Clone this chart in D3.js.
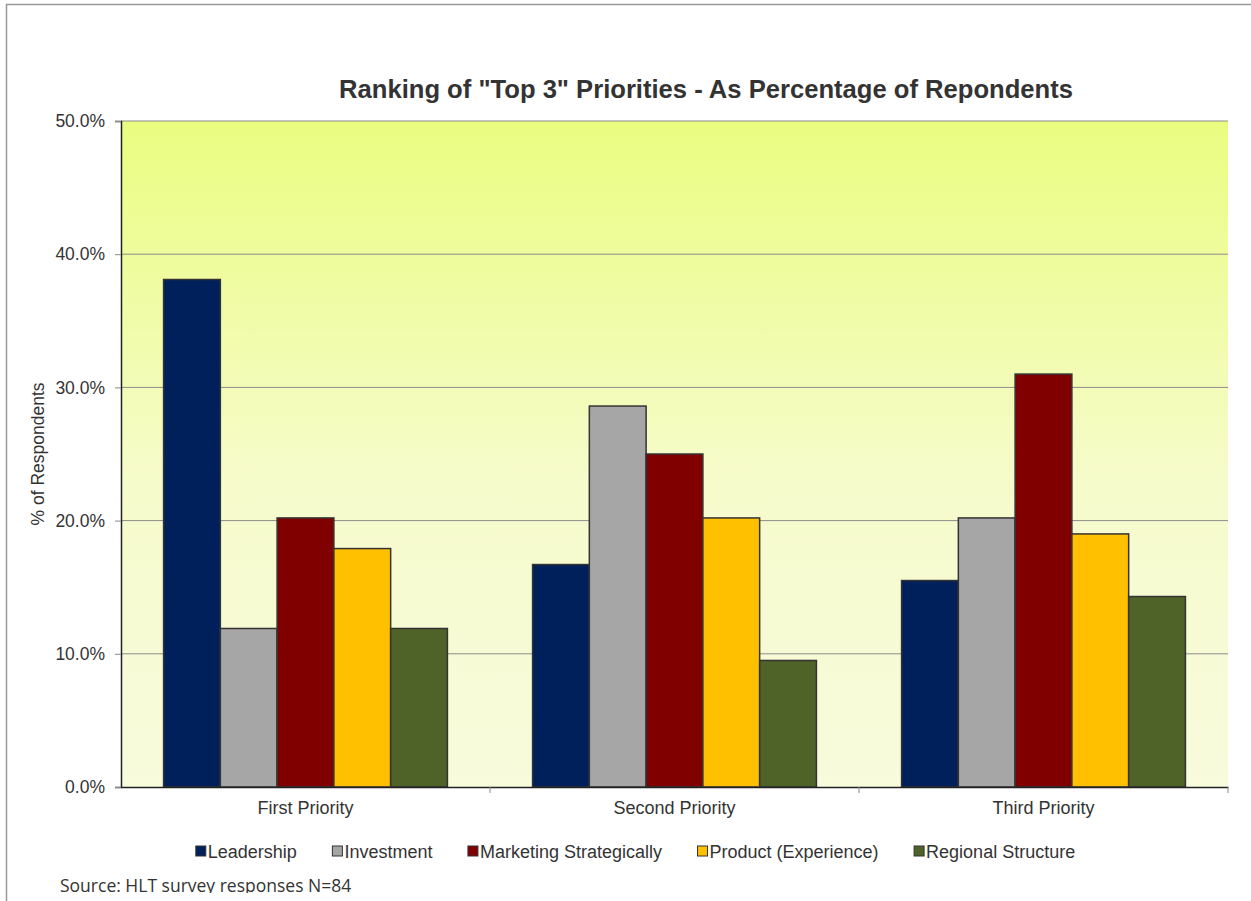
<!DOCTYPE html>
<html>
<head>
<meta charset="utf-8">
<script src="https://cdn.jsdelivr.net/npm/d3@7"></script>
<style>
  body { margin: 0; background: #fff; }
  text { font-family: "Liberation Sans", Arial, sans-serif; fill: #333; }
</style>
</head>
<body>
<div id="canvas"></div>
<script>
const categories = ["First Priority", "Second Priority", "Third Priority"];
const seriesNames = ["Leadership", "Investment", "Marketing Strategically", "Product (Experience)", "Regional Structure"];
const seriesColors = ["#00205b", "#a6a6a6", "#800000", "#ffc000", "#4f6228"];
// percent of respondents, per series, one value per category
const leadership = [38.1, 16.7, 15.5];
const investment = [11.9, 28.6, 20.2];
const marketing = [20.2, 25.0, 31.0];
const product = [17.9, 20.2, 19.0];
const regional = [11.9, 9.5, 14.3];
const yTicks = [0, 10, 20, 30, 40, 50];

const w = 1251, h = 901;
const margin = { top: 121, left: 121, right: 23, bottom: 114 };
const width = w - margin.left - margin.right;
const height = h - margin.top - margin.bottom;

const values = [leadership, investment, marketing, product, regional];
const data = categories.map((c, i) => ({
  category: c,
  bars: seriesNames.map((s, j) => ({ series: s, value: values[j][i] }))
}));

const svg = d3.select("#canvas").append("svg")
  .attr("width", w).attr("height", h);

// outer frame
svg.append("line").attr("x1", 6).attr("x2", w).attr("y1", 4.5).attr("y2", 4.5)
  .attr("stroke", "#999").attr("stroke-width", 1.5);
svg.append("line").attr("x1", 6.5).attr("x2", 6.5).attr("y1", 4).attr("y2", h)
  .attr("stroke", "#999").attr("stroke-width", 1.5);

const defs = svg.append("defs");
const grad = defs.append("linearGradient").attr("id", "bg")
  .attr("x1", 0).attr("y1", 0).attr("x2", 0).attr("y2", 1);
grad.append("stop").attr("offset", "0%").attr("stop-color", "#eafd80");
grad.append("stop").attr("offset", "55%").attr("stop-color", "#f6fbcc");
grad.append("stop").attr("offset", "100%").attr("stop-color", "#f8fbdc");

defs.append("clipPath").attr("id", "srcClip")
  .append("rect").attr("x", 0).attr("y", 0).attr("width", w).attr("height", 893);

const chart = svg.append("g")
  .attr("transform", "translate(" + margin.left + "," + margin.top + ")");

const x0 = d3.scaleBand().domain(categories).range([0, width]).padding(0);
const x1 = d3.scaleBand().domain(seriesNames).range([0, x0.bandwidth()])
  .paddingInner(0).paddingOuter(0.75);
const y = d3.scaleLinear().domain([0, 50]).range([height, 0]);
const color = d3.scaleOrdinal().domain(seriesNames).range(seriesColors);

chart.append("rect").attr("width", width).attr("height", height).attr("fill", "url(#bg)");

// gridlines
chart.selectAll(".grid").data(yTicks.filter(d => d > 0)).enter()
  .append("line").classed("grid", true)
  .attr("x1", 0).attr("x2", width)
  .attr("y1", d => y(d)).attr("y2", d => y(d))
  .attr("stroke", "#8c8c8c").attr("stroke-width", 1);

// bars
const groups = chart.selectAll(".group").data(data).enter()
  .append("g").classed("group", true)
  .attr("transform", d => "translate(" + x0(d.category) + ",0)");

groups.selectAll("rect").data(d => d.bars).enter()
  .append("rect")
  .attr("x", d => x1(d.series))
  .attr("y", d => y(d.value))
  .attr("width", x1.bandwidth())
  .attr("height", d => height - y(d.value))
  .attr("fill", d => color(d.series))
  .attr("stroke", "#333").attr("stroke-width", 1.5);

// y axis
const yAxis = d3.axisLeft(y).tickValues(yTicks)
  .tickFormat(d => d.toFixed(1) + "%").tickSize(6).tickPadding(10);
const gy = chart.append("g").call(yAxis);
gy.select(".domain").attr("stroke", "#222").attr("stroke-width", 1.5);
gy.selectAll(".tick line").attr("stroke", "#888");
gy.selectAll("text").style("font-size", "17.5px").attr("fill", "#333");

// x axis
const xAxis = d3.axisBottom(x0).tickSize(0).tickPadding(14);
const gx = chart.append("g").attr("transform", "translate(0," + height + ")").call(xAxis);
gx.select(".domain").attr("stroke", "#222").attr("stroke-width", 1.5);
gx.selectAll("text").style("font-size", "18px").attr("fill", "#333");
gx.selectAll(".sep").data(categories).enter()
  .append("line").classed("sep", true)
  .attr("x1", d => x0(d) + x0.bandwidth()).attr("x2", d => x0(d) + x0.bandwidth())
  .attr("y1", 0).attr("y2", 6).attr("stroke", "#888");

// y axis label
svg.append("text")
  .attr("transform", "translate(44," + (margin.top + height / 2) + ") rotate(-90)")
  .attr("text-anchor", "middle")
  .style("font-size", "17.5px")
  .text("% of Respondents");

// title
svg.append("text")
  .attr("x", 706).attr("y", 98)
  .attr("text-anchor", "middle")
  .style("font-size", "25.6px").style("font-weight", "bold")
  .text('Ranking of "Top 3" Priorities - As Percentage of Repondents');

// legend
const legend = svg.append("g").attr("transform", "translate(0,851)");
const items = legend.selectAll("g").data(seriesNames).enter().append("g");
items.append("rect").attr("x", 0).attr("y", -5).attr("width", 10).attr("height", 10)
  .attr("fill", d => color(d)).attr("stroke", "#333").attr("stroke-width", 1);
items.append("text").attr("x", 12).attr("y", 6.5).style("font-size", "18px").text(d => d);
let cx = 0;
const gap = 35.5;
items.each(function () {
  const t = d3.select(this).select("text").node().getComputedTextLength();
  d3.select(this).attr("data-w", 12 + t);
});
const totalW = items.nodes().reduce((s, n) => s + (+n.getAttribute("data-w")), 0) + gap * (seriesNames.length - 1);
cx = 635.5 - totalW / 2;
items.each(function () {
  d3.select(this).attr("transform", "translate(" + cx + ",0)");
  cx += +this.getAttribute("data-w") + gap;
});

// source note (cut off at the bottom as in the original)
svg.append("text")
  .attr("x", 60).attr("y", 892)
  .attr("clip-path", "url(#srcClip)")
  .style("font-family", "'Open Sans', 'Noto Sans', sans-serif")
  .style("font-size", "17.5px").attr("fill", "#000")
  .text("Source: HLT survey responses N=84");
</script>
</body>
</html>
